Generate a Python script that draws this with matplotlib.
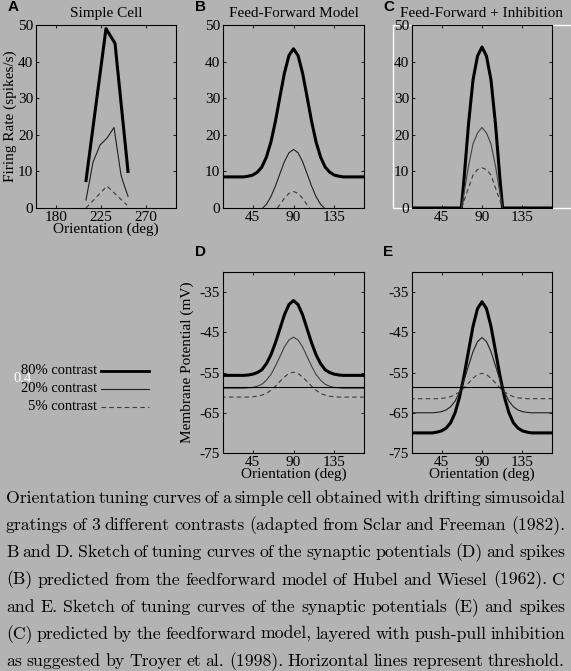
import matplotlib
matplotlib.use("Agg")
import matplotlib.pyplot as plt
from matplotlib.lines import Line2D
from matplotlib.patches import Rectangle

W, H = 571, 671
BG = "#b3b3b3"
SERIF = "Liberation Serif"

# A: measured simple cell
a_ori_80 = [210, 230, 239, 252]
a_rate_80 = [7.5, 49, 45, 10]
a_ori_20 = [210, 217, 224, 231, 238, 245, 247, 252]
a_rate_20 = [2.2, 12.5, 17.2, 19.1, 22, 9, 7.2, 3.2]
a_ori_5 = [210, 231, 251]
a_rate_5 = [0, 6, 0.8]

# B / D / E share the orientation grid
ori = [10, 15, 20, 25, 30, 35, 40, 45, 50, 55, 60, 65, 70, 75, 80, 85, 90,
       95, 100, 105, 110, 115, 120, 125, 130, 135, 140, 145, 150, 155, 160, 165, 170]

b_rate_80 = [8.5, 8.5, 8.5, 8.5, 8.5, 8.5, 8.7, 9.0, 9.8, 11.2, 13.9, 18.0, 23.7, 30.4, 36.9, 41.7, 43.5,
             41.7, 36.9, 30.4, 23.7, 18.0, 13.9, 11.2, 9.8, 9.0, 8.7, 8.5, 8.5, 8.5, 8.5, 8.5, 8.5]
b_ori_20 = [56, 60, 65, 70, 75, 80, 85, 90, 95, 100, 105, 110, 115, 120, 124]
b_rate_20 = [0, 1.0, 3.1, 6.0, 9.4, 12.7, 15.1, 16.0, 15.1, 12.7, 9.4, 6.0, 3.1, 1.0, 0]
b_ori_5 = [72, 75, 80, 85, 90, 95, 100, 105, 108]
b_rate_5 = [0, 0.9, 2.7, 4.0, 4.5, 4.0, 2.7, 0.9, 0]

c_ori_80 = [10, 67, 70, 75, 80, 85, 90, 95, 100, 105, 110, 113, 170]
c_rate_80 = [0, 0, 8, 23, 35, 41.5, 44, 41.5, 35, 23, 8, 0, 0]
c_ori = [67, 70, 75, 80, 85, 90, 95, 100, 105, 110, 113]
c_rate_20 = [0, 4, 11.5, 17.5, 20.5, 22, 20.5, 17.5, 11.5, 4, 0]
c_rate_5 = [0, 2, 5.5, 9, 10.5, 11, 10.5, 9, 5.5, 2, 0]

d_vm_80 = [-55.7, -55.7, -55.7, -55.7, -55.7, -55.7, -55.6, -55.4, -55.0, -54.3, -52.8, -50.6, -47.6, -44.1, -40.6, -38.1, -37.1,
           -38.1, -40.6, -44.1, -47.6, -50.6, -52.8, -54.3, -55.0, -55.4, -55.6, -55.7, -55.7, -55.7, -55.7, -55.7, -55.7]
d_vm_20 = [-58.9, -58.9, -58.9, -58.9, -58.9, -58.9, -58.8, -58.7, -58.4, -57.9, -56.9, -55.5, -53.4, -51.0, -48.6, -46.9, -46.2,
           -46.9, -48.6, -51.0, -53.4, -55.5, -56.9, -57.9, -58.4, -58.7, -58.8, -58.9, -58.9, -58.9, -58.9, -58.9, -58.9]
d_vm_5 = [-61.1, -61.1, -61.1, -61.1, -61.1, -61.1, -61.1, -61.0, -60.9, -60.6, -60.2, -59.4, -58.4, -57.2, -56.1, -55.2, -54.9,
          -55.2, -56.1, -57.2, -58.4, -59.4, -60.2, -60.6, -60.9, -61.0, -61.1, -61.1, -61.1, -61.1, -61.1, -61.1, -61.1]

e_vm_80 = [-70, -70, -70, -70, -70, -70, -69.8, -69.5, -68.8, -67.5, -65.0, -61.1, -55.8, -49.6, -43.5, -39.1, -37.4,
           -39.1, -43.5, -49.6, -55.8, -61.1, -65.0, -67.5, -68.8, -69.5, -69.8, -70, -70, -70, -70, -70, -70]
e_vm_20 = [-65, -65, -65, -65, -65, -65, -64.9, -64.7, -64.3, -63.5, -62.1, -59.9, -56.9, -53.3, -49.8, -47.3, -46.3,
           -47.3, -49.8, -53.3, -56.9, -59.9, -62.1, -63.5, -64.3, -64.7, -64.9, -65, -65, -65, -65, -65, -65]
e_vm_5 = [-61.5, -61.5, -61.5, -61.5, -61.5, -61.5, -61.5, -61.4, -61.3, -61.0, -60.5, -59.8, -58.8, -57.6, -56.4, -55.5, -55.2,
          -55.5, -56.4, -57.6, -58.8, -59.8, -60.5, -61.0, -61.3, -61.4, -61.5, -61.5, -61.5, -61.5, -61.5, -61.5, -61.5]

threshold = -58.5

rate_ticks = [0, 10, 20, 30, 40, 50]
vm_ticks = [-75, -65, -55, -45, -35]
vm_labels = ["-75", "-65", "-55", "-45", "-35"]
ori_ticks = [45, 90, 135]
a_ticks = [180, 225, 270]

legend_labels = ["80% contrast", "20% contrast", "5% contrast"]

caption = [
    "Orientation tuning curves of a simple cell obtained with drifting simusoidal",
    "gratings of 3 different contrasts (adapted from Sclar and Freeman (1982).",
    "B and D. Sketch of tuning curves of the synaptic potentials (D) and spikes",
    "(B) predicted from the feedforward model of Hubel and Wiesel (1962).  C",
    "and E. Sketch of tuning curves of the synaptic potentials (E) and spikes",
    "(C) predicted by the feedforward model, layered with push-pull inhibition",
    "as suggested by Troyer et al. (1998).  Horizontal lines represent threshold.",
]

THICK = dict(color="black", lw=2.2)
THIN = dict(color="#202020", lw=0.8)
DASH = dict(color="#3a3a3a", lw=0.8, ls=(0, (4, 3)))
FS = 11

fig = plt.figure(figsize=(W / 100, H / 100), dpi=100, facecolor=BG)


def box(l, t, r, b):
    return [l / W, 1 - b / H, (r - l) / W, (b - t) / H]


def style(ax):
    ax.set_facecolor(BG)
    for s in ax.spines.values():
        s.set_linewidth(0.8)
    ax.tick_params(direction="in", top=True, right=True, length=2.5, width=0.6,
                   pad=2, labelsize=FS)
    for lab in ax.get_xticklabels() + ax.get_yticklabels():
        lab.set_family(SERIF)


# white frame artifact behind panel C
fig.patches.append(Rectangle((392.5 / W, 1 - 208 / H), 190 / W, 183 / H,
                             transform=fig.transFigure, fill=False,
                             edgecolor="white", lw=1.0, zorder=-1))

axA = fig.add_axes(box(36, 25, 176, 208))
axA.plot(a_ori_80, a_rate_80, **THICK)
axA.plot(a_ori_20, a_rate_20, **THIN)
axA.plot(a_ori_5, a_rate_5, **DASH)
axA.set_xlim(160, 300)
axA.set_ylim(0, 50)
axA.set_xticks(a_ticks)
axA.set_yticks(rate_ticks)
style(axA)
axA.set_title("Simple Cell", family=SERIF, fontsize=FS, pad=6)
axA.set_xlabel("Orientation (deg)", family=SERIF, fontsize=FS, labelpad=-1)
axA.set_ylabel("Firing Rate (spikes/s)", family=SERIF, fontsize=FS, labelpad=1)

axB = fig.add_axes(box(223, 25, 364, 208))
axB.plot(ori, b_rate_80, **THICK)
axB.plot(b_ori_20, b_rate_20, **THIN)
axB.plot(b_ori_5, b_rate_5, **DASH)
axB.set_xlim(12, 168)
axB.set_ylim(0, 50)
axB.set_xticks(ori_ticks)
axB.set_yticks(rate_ticks)
style(axB)
axB.set_title("Feed-Forward Model", family=SERIF, fontsize=FS, pad=6)

axC = fig.add_axes(box(412, 25, 552, 208))
axC.plot(c_ori_80, c_rate_80, **THICK)
axC.plot(c_ori, c_rate_20, color="#404040", lw=0.8)
axC.plot(c_ori, c_rate_5, **DASH)
axC.set_xlim(12, 168)
axC.set_ylim(0, 50)
axC.set_xticks(ori_ticks)
axC.set_yticks(rate_ticks)
style(axC)
axC.set_title("Feed-Forward + Inhibition", family=SERIF, fontsize=FS, pad=6)

axD = fig.add_axes(box(223, 272, 364, 453))
axD.plot(ori, d_vm_80, **THICK)
axD.plot(ori, d_vm_20, color="#404040", lw=0.8)
axD.plot(ori, d_vm_5, **DASH)
axD.axhline(threshold, color="black", lw=0.8)
axD.set_xlim(12, 168)
axD.set_ylim(-75, -30)
axD.set_xticks(ori_ticks)
axD.set_yticks(vm_ticks)
axD.set_yticklabels(vm_labels)
style(axD)
axD.set_xlabel("Orientation (deg)", family=SERIF, fontsize=FS, labelpad=-1)
axD.set_ylabel("Membrane Potential (mV)", family=SERIF, fontsize=FS, labelpad=4)

axE = fig.add_axes(box(412, 272, 552, 453))
axE.plot(ori, e_vm_80, **THICK)
axE.plot(ori, e_vm_20, **THIN)
axE.plot(ori, e_vm_5, **DASH)
axE.axhline(threshold, color="black", lw=0.8)
axE.set_xlim(12, 168)
axE.set_ylim(-75, -30)
axE.set_xticks(ori_ticks)
axE.set_yticks(vm_ticks)
axE.set_yticklabels(vm_labels)
style(axE)
axE.set_xlabel("Orientation (deg)", family=SERIF, fontsize=FS, labelpad=-1)

# panel letters
for letter, (px, py) in zip("ABCDE", [(13, 7), (200, 7), (389, 7), (200, 252), (388, 252)]):
    fig.text(px / W, 1 - py / H, letter, family="Liberation Sans", weight="bold",
             fontsize=11, ha="center", va="center")

# legend drawn by hand at the left of D
fig.text(14 / W, 1 - 379 / H, "0.4", color="white", family=SERIF, fontsize=10.5,
         ha="left", va="center")
styles = [dict(color="black", lw=2.0), THIN, DASH]
for i, (lab, st) in enumerate(zip(legend_labels, styles)):
    y = 371 + 18 * i
    fig.text(97 / W, 1 - y / H, lab, family=SERIF, fontsize=10.5, ha="right", va="center")
    fig.add_artist(Line2D([101 / W, 149 / W], [1 - y / H, 1 - y / H],
                          transform=fig.transFigure, **st))

# caption, justified between the margins
cap_font = ["cmr10", "DejaVu Serif"]
cap_left, cap_right = 6, 565
r = fig.canvas.get_renderer()
probes = [fig.text(0, 0, w, family=cap_font, fontsize=12) for w in caption[0].split()]
natural = sum(p.get_window_extent(r).width for p in probes)
for p in probes:
    p.remove()
fs = 12 * (cap_right - cap_left - 9 * 3.5) / natural

for i, line in enumerate(caption):
    yb = 1 - (503 + 27.2 * i) / H
    words = line.split()
    texts = [fig.text(0, yb, w, family=cap_font, fontsize=fs, va="baseline") for w in words]
    widths = [t.get_window_extent(r).width for t in texts]
    gap = (cap_right - cap_left - sum(widths)) / (len(words) - 1)
    x = cap_left
    for t, w in zip(texts, widths):
        t.set_x(x / W)
        x += w + gap

fig.savefig("out.png", dpi=100, facecolor=BG)
